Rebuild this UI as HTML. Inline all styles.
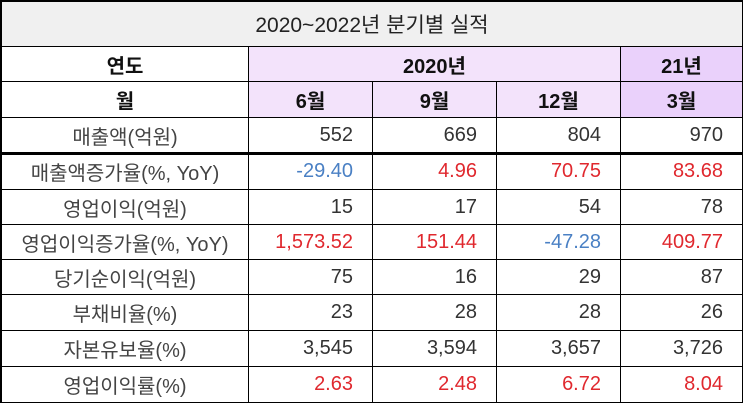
<!DOCTYPE html>
<html><head><meta charset="utf-8"><style>
body{margin:0;width:745px;height:404px;background:#fff;overflow:hidden;font-family:"Liberation Sans","Noto Sans CJK KR",sans-serif;}
.c{position:absolute;box-sizing:border-box;border-right:1px solid #000;border-bottom:1px solid #000;display:flex;align-items:center;font-size:20px;color:#333;}
.l{justify-content:center;color:#444;}
.r{justify-content:flex-end;padding-right:19px;}
.h{justify-content:center;color:#111;font-weight:bold;}
.red{color:#e0282e}.blue{color:#4a80c4}
</style></head><body>
<div style="position:absolute;left:0;top:0;width:743px;height:403px;border-left:2px solid #000;border-top:2px solid #000;box-sizing:border-box"></div>
<div class="c" style="left:0;top:0;width:743px;height:47px;background:#f0f0f0;justify-content:center;border-left:2px solid #000;border-top:2px solid #000;color:#222;font-size:21px">2020~2022년 분기별 실적</div>
<div id="g"></div>
<script>
const xs=[0,249,373,497,621,743];
const ys=[47,82,118,154,190,225,260,295,331,367,403];
const rows=[
 [["연도","h",""],["2020년","h","#f3e3fb",3],["21년","h","#ead1fb"]],
 [["월","h",""],["6월","h","#f3e3fb"],["9월","h","#f3e3fb"],["12월","h","#f3e3fb"],["3월","h","#ead1fb"]],
 [["매출액(억원)"],["552"],["669"],["804"],["970"]],
 [["매출액증가율(%, YoY)"],["-29.40","blue"],["4.96","red"],["70.75","red"],["83.68","red"]],
 [["영업이익(억원)"],["15"],["17"],["54"],["78"]],
 [["영업이익증가율(%, YoY)"],["1,573.52","red"],["151.44","red"],["-47.28","blue"],["409.77","red"]],
 [["당기순이익(억원)"],["75"],["16"],["29"],["87"]],
 [["부채비율(%)"],["23"],["28"],["28"],["26"]],
 [["자본유보율(%)"],["3,545"],["3,594"],["3,657"],["3,726"]],
 [["영업이익률(%)"],["2.63","red"],["2.48","red"],["6.72","red"],["8.04","red"]]
];
let h="";
rows.forEach((row,i)=>{let ci=0;row.forEach((cell,j)=>{const span=cell[3]||1;const x0=xs[ci],x1=xs[ci+span];ci+=span;
 let cls=cell[1]==="h"?"h":(j===0?"l":"r "+(cell[1]||""));
 let bl=j===0?"border-left:2px solid #000;":"";
 h+=`<div class="c ${cls}" style="left:${x0}px;top:${ys[i]}px;width:${x1-x0}px;height:${ys[i+1]-ys[i]+(i===2?1:0)}px;${cell[2]?"background:"+cell[2]+";":""}${bl}${i===2?"border-bottom:3px solid #000;":""}">${cell[0]}</div>`;});});
document.getElementById("g").innerHTML=h;
</script>
</body></html>
